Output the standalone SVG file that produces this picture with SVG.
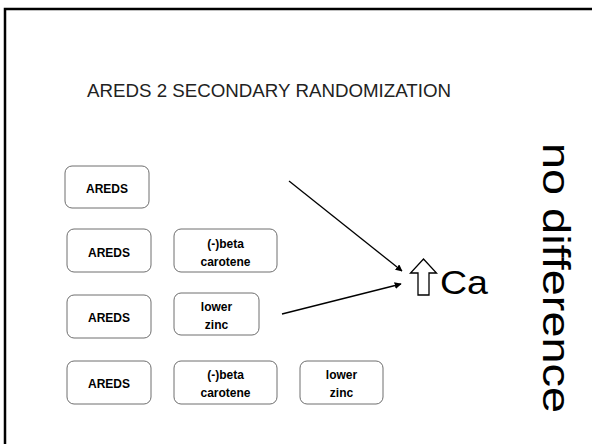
<svg xmlns="http://www.w3.org/2000/svg" width="592" height="444" viewBox="0 0 592 444">
<style>
.box{fill:#fff;stroke:#6e6e6e;stroke-width:1}
.lbl{font-family:"Liberation Sans",Arial,sans-serif;font-weight:bold;font-size:12px;fill:#000;text-anchor:middle}
.con{stroke:#000;stroke-width:1.3;fill:none}
</style>
<defs>
<marker id="ah" viewBox="0 0 10 10" refX="9" refY="5" markerWidth="7" markerHeight="7" markerUnits="userSpaceOnUse" orient="auto">
<path d="M0,0 L10,5 L0,10 z" fill="#000"/>
</marker>
</defs>
<rect x="5" y="9" width="600" height="450" fill="#fff" stroke="#000" stroke-width="2.5"/>
<text x="269" y="97" font-family="'Liberation Sans',Arial,sans-serif" font-size="19" fill="#222" text-anchor="middle" textLength="364" lengthAdjust="spacingAndGlyphs">AREDS 2 SECONDARY RANDOMIZATION</text>
<g id="n1"><rect class="box" x="65" y="166" width="84" height="42" rx="7"/><text class="lbl" x="107" y="193">AREDS</text></g>
<g id="n2"><rect class="box" x="67" y="229" width="84" height="43" rx="7"/><text class="lbl" x="109" y="257">AREDS</text></g>
<g id="n3"><rect class="box" x="174" y="229" width="103" height="43" rx="7"/><text class="lbl" x="225.5" y="248">(-)beta</text><text class="lbl" x="225.5" y="266">carotene</text></g>
<g id="n4"><rect class="box" x="67" y="295" width="84" height="43" rx="7"/><text class="lbl" x="109" y="322">AREDS</text></g>
<g id="n5"><rect class="box" x="174" y="293" width="85" height="42" rx="7"/><text class="lbl" x="216.5" y="311">lower</text><text class="lbl" x="216.5" y="329">zinc</text></g>
<g id="n6"><rect class="box" x="67" y="361" width="84" height="43" rx="7"/><text class="lbl" x="109" y="388">AREDS</text></g>
<g id="n7"><rect class="box" x="174" y="361" width="103" height="43" rx="7"/><text class="lbl" x="225.5" y="379">(-)beta</text><text class="lbl" x="225.5" y="397">carotene</text></g>
<g id="n8"><rect class="box" x="300" y="361" width="83" height="43" rx="7"/><text class="lbl" x="341.5" y="379">lower</text><text class="lbl" x="341.5" y="397">zinc</text></g>
<g id="n9">
<path d="M423.5,259 L436.5,273 L429,273 L429,295 L418,295 L418,273 L410.5,273 Z" fill="#fff" stroke="#000" stroke-width="1.3"/>
<text x="440" y="294" font-family="'Liberation Sans',Arial,sans-serif" font-size="33" fill="#000" textLength="48" lengthAdjust="spacingAndGlyphs">Ca</text>
</g>
<g id="n10"><text transform="translate(543,143) rotate(90)" font-family="'Liberation Sans',Arial,sans-serif" font-size="38" fill="#000" textLength="270" lengthAdjust="spacingAndGlyphs">no difference</text></g>
<g id="connectors">
<line class="con" x1="289" y1="181" x2="402" y2="271" marker-end="url(#ah)"/>
<line class="con" x1="282" y1="314" x2="401" y2="284" marker-end="url(#ah)"/>
</g>
</svg>
